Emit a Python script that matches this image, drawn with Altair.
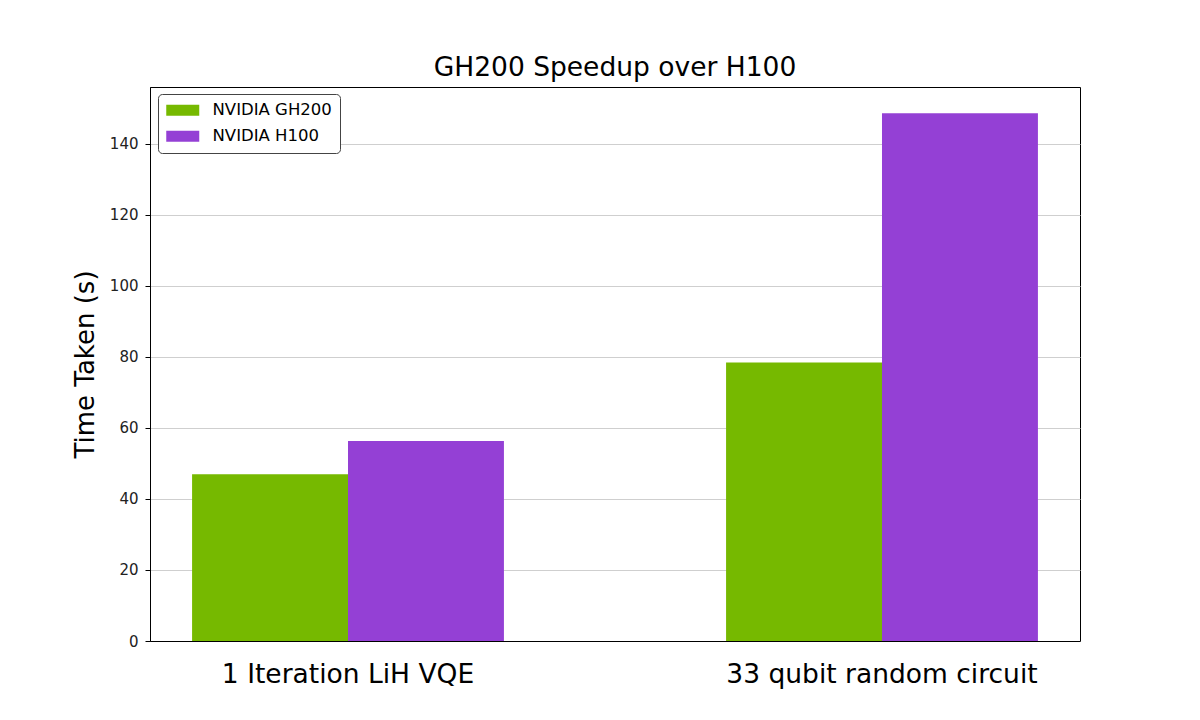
import altair as alt
import pandas as pd

categories = ["1 Iteration LiH VQE", "33 qubit random circuit"]
series = ["NVIDIA GH200", "NVIDIA H100"]
gh200_times = [46.9, 78.4]
h100_times = [56.3, 148.5]
colors = ["#76b900", "#9440d5"]
y_ticks = [0, 20, 40, 60, 80, 100, 120, 140]

rows = []
for c, g, h in zip(categories, gh200_times, h100_times):
    rows.append({"task": c, "gpu": series[0], "time": g})
    rows.append({"task": c, "gpu": series[1], "time": h})
df = pd.DataFrame(rows)

FONT = "DejaVu Sans"

chart = alt.Chart(df).mark_bar().encode(
    x=alt.X(
        "task:N",
        sort=categories,
        scale=alt.Scale(paddingInner=0.416, paddingOuter=0.0788),
        axis=alt.Axis(
            title=None, labelAngle=0, ticks=False, labelFontSize=26.5,
            labelColor="black", labelPadding=20, domainColor="black",
            grid=False, labelFont=FONT, labelLimit=0,
        ),
    ),
    xOffset=alt.XOffset(
        "gpu:N", sort=series, scale=alt.Scale(paddingInner=0, paddingOuter=0)
    ),
    y=alt.Y(
        "time:Q",
        scale=alt.Scale(domain=[0, 155.9], nice=False),
        axis=alt.Axis(
            values=y_ticks, title="Time Taken (s)", titleFontSize=26,
            titleFontWeight="normal", titleFont=FONT, titleColor="black",
            titlePadding=11, labelFontSize=15, labelFont=FONT,
            labelColor="#222222", tickColor="black", tickSize=5,
            domainColor="black", grid=True, gridColor="#cfcfcf",
            labelPadding=7,
        ),
    ),
    color=alt.Color(
        "gpu:N",
        sort=series,
        scale=alt.Scale(domain=series, range=colors),
        legend=alt.Legend(
            title=None, orient="none", legendX=8, legendY=7,
            symbolType="M-1,-0.6875H3.125V0.6875H-1Z", symbolSize=256,
            symbolStrokeWidth=0, symbolOpacity=1,
            padding=8, rowPadding=9, labelOffset=30, labelFontSize=16.5,
            labelFont=FONT, labelColor="black",
            strokeColor="#444444", fillColor="white", cornerRadius=4,
        ),
    ),
).properties(
    width=930,
    height=554,
    title=alt.Title(
        "GH200 Speedup over H100", fontSize=26.5, fontWeight="normal",
        font=FONT, color="black", offset=6,
    ),
    autosize=alt.AutoSizeParams(type="none"),
    padding={"left": 142, "top": 79, "right": 112, "bottom": 70},
).configure(
    background="white"
).configure_view(
    stroke="black", strokeWidth=1
)

chart.save("out.html", embed_options={"renderer": "svg", "actions": False})
